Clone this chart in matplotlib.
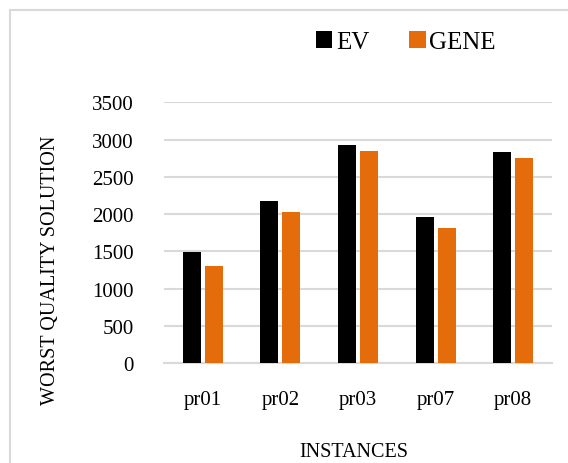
import matplotlib
matplotlib.use("Agg")
import matplotlib.pyplot as plt
from matplotlib.patches import Rectangle
import numpy as np

categories = ["pr01", "pr02", "pr03", "pr07", "pr08"]
ev = [1490, 2180, 2930, 1960, 2835]
gene = [1300, 2030, 2850, 1820, 2750]
yticks = [0, 500, 1000, 1500, 2000, 2500, 3000, 3500]

plt.rcParams['font.family'] = ['Liberation Serif', 'DejaVu Serif']

W, H = 568, 464
fig = plt.figure(figsize=(W / 100, H / 100), dpi=100)
fig.patch.set_facecolor('white')

# chart border
fig.add_artist(Rectangle((10 / W, -0.05), 1.2, 1 - 11 / H + 0.05,
                         transform=fig.transFigure, fill=False,
                         edgecolor='#d9d9d9', linewidth=1.5))

AX_L, AX_R, AX_T, AX_B = 164, 552, 103.3, 364.3
ax = fig.add_axes([AX_L / W, 1 - AX_B / H, (AX_R - AX_L) / W, (AX_B - AX_T) / H])
x = np.arange(len(categories))
w = 0.23
off = 0.142
b1 = ax.bar(x - off, ev, w, color='black', label='EV', zorder=3)
b2 = ax.bar(x + off, gene, w, color='#E46C0A', label='GENE', zorder=3)

ax.set_xlim(-0.5, len(categories) - 0.5)
ax.set_ylim(0, 3500)
ax.set_yticks(yticks)
ax.set_yticklabels([str(v) for v in yticks], fontsize=15)
ax.set_xticks(x)
ax.set_xticklabels(categories, fontsize=15)
ax.tick_params(axis='both', length=0)
ax.tick_params(axis='y', pad=22)
ax.tick_params(axis='x', pad=19)

ax.yaxis.grid(True, color='#d9d9d9', linewidth=1.5, zorder=0)
ax.set_axisbelow(True)
for s in ['top', 'right', 'left']:
    ax.spines[s].set_visible(False)
ax.spines['bottom'].set_color('#d9d9d9')
ax.spines['bottom'].set_linewidth(1.5)

ax.set_ylabel("WORST QUALITY SOLUTION", fontsize=14.5)
ax.yaxis.set_label_coords(-(AX_L - 51) / (AX_R - AX_L), (AX_B - 270) / (AX_B - AX_T))
ax.yaxis.label.set_va('center')
ax.set_xlabel("INSTANCES", fontsize=14.5)
ax.xaxis.set_label_coords((354 - AX_L) / (AX_R - AX_L), -(453 - AX_B) / (AX_B - AX_T))
ax.xaxis.label.set_va('center')

leg = fig.legend(handles=[b1, b2], labels=['EV', 'GENE'], loc='center',
                 bbox_to_anchor=(406 / W, 1 - 43 / H), ncol=2, frameon=False,
                 fontsize=18, handlelength=0.65, handleheight=0.65,
                 handletextpad=0.15, columnspacing=1.6)

fig.savefig("out.png", dpi=100)
